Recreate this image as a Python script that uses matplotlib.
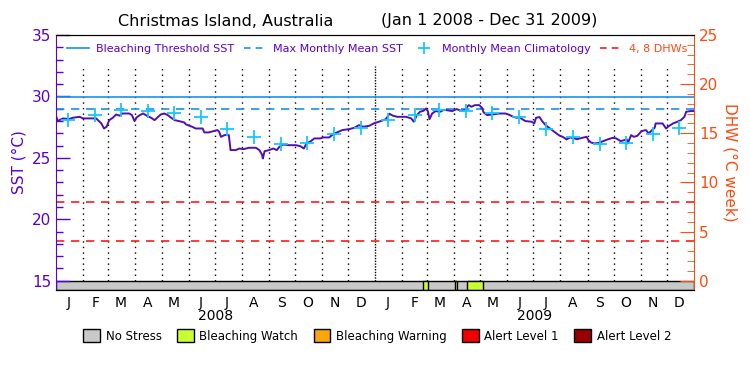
import numpy as np
import matplotlib
matplotlib.use("Agg")
import matplotlib.pyplot as plt
from matplotlib.lines import Line2D
from matplotlib.patches import Patch
from matplotlib.transforms import blended_transform_factory

# days since Jan 1 2008 and daily SST (deg C)
sst_day = [0, 2, 4, 8, 15, 19, 27, 31, 46, 48, 52, 55, 58, 61, 65, 69, 73, 76, 84, 87,
           90, 92, 96, 100, 104, 109, 113, 117, 120, 124, 128, 132, 136, 141, 147,
           149, 156, 160, 168, 170, 175, 181, 185, 187, 189, 193, 198, 200, 206, 210,
           215, 221, 229, 233, 236, 237, 239, 244, 249, 253, 256, 260, 267, 275, 280,
           284, 287, 292, 296,
           303, 306, 313, 317, 321, 328, 336, 342, 347, 352, 359, 364, 372, 378, 382,
           386, 391, 401, 407, 410, 413, 417, 421, 424, 426, 428, 431, 435, 440, 444,
           447, 454, 459, 464, 469, 471, 473, 476, 480, 485, 488, 490, 494, 500, 508,
           515, 520, 524, 528, 531, 534, 538, 545, 548, 550, 554, 557, 561, 566, 571,
           576, 581, 585, 589,
           594, 597, 603, 608, 610, 613, 617, 622, 627, 632, 638, 642, 647, 651, 654,
           655, 659, 662, 666, 671, 676, 679, 683, 686, 687, 695, 699, 702, 707, 712,
           716, 720, 722, 727, 731]
sst_val = [28.43, 27.99, 28.07, 28.21, 28.15, 28.26, 28.34, 28.21, 28.21, 28.07, 27.80, 27.39,
           27.53, 28.07, 28.26, 28.53, 28.43, 28.61, 28.61, 28.48, 27.99, 28.26, 28.48, 28.61,
           28.43, 28.26, 28.07, 28.34, 28.53, 28.61, 28.48, 28.26, 28.07, 27.99, 27.88,
           27.72, 27.53, 27.39, 27.39, 27.07, 27.07, 27.18, 27.26, 27.12, 26.71, 26.85, 26.85,
           25.63, 25.63, 25.76, 25.71, 25.82, 25.82, 25.63, 25.27, 24.95, 25.54, 25.63, 25.76,
           25.63, 25.90, 26.09, 26.03, 26.03, 25.95, 25.76, 26.17, 26.36, 26.58,
           26.58, 26.66, 26.66, 26.90, 27.04, 27.26, 27.34, 27.45, 27.66, 27.53, 27.61, 27.80,
           27.99, 28.15, 28.59, 28.43, 28.34, 28.34, 28.21, 27.94, 28.43, 28.75, 28.83, 29.02,
           28.81, 28.15, 28.61, 28.81, 28.75, 28.89,
           28.89, 28.81, 28.97, 28.83, 28.89, 29.16, 29.29, 29.16, 29.29, 29.29, 29.08, 28.70,
           28.48, 28.53, 28.61, 28.61, 28.48, 28.34, 28.26, 28.34, 28.15, 27.99, 27.94, 27.80,
           28.26, 28.32, 27.99, 27.66, 27.39, 27.12, 26.85, 26.69, 26.50, 26.66,
           26.58, 26.52, 26.63, 26.71, 26.44, 26.25, 26.17, 26.22, 26.36, 26.50, 26.63, 26.58,
           26.36, 26.44, 26.50, 26.17, 26.85, 26.71, 26.79, 27.18, 27.26, 26.99, 27.26, 27.45,
           27.80, 27.80, 27.39, 27.58, 27.80, 27.94, 28.07, 28.34, 28.75, 28.81, 28.81]

# monthly mean climatology, Jan..Dec
clim = [28.05, 28.48, 28.92, 28.83, 28.67, 28.29, 27.37, 26.71, 26.15, 26.17, 26.92, 27.47]
mmm = 28.97
threshold = mmm + 1.0
dhw_levels = [4, 8]

# stress strip: (start day, end day, level)
stress = [(0, 731, "No Stress"), (421, 426, "Bleaching Watch"),
          (457, 460, "Bleaching Watch"), (471, 489, "Bleaching Watch")]
stress_names = ["No Stress", "Bleaching Watch", "Bleaching Warning", "Alert Level 1", "Alert Level 2"]
stress_colors = ["#c8c8c8", "#c8ff32", "#faa50a", "#f00000", "#960000"]

month_letters = list("JFMAMJJASOND")
years = [2008, 2009]

PURPLE = "#5a00d2"
LINE = "#5010b4"
BLUE = "#1493f0"
CYAN = "#14c8ff"
ORANGE = "#ff4a10"
RED = "#ff1a1a"

# month boundaries / mid-months as day offsets
starts = np.arange("2008-01", "2010-02", dtype="datetime64[M]").astype("datetime64[D]")
month_start = (starts - np.datetime64("2008-01-01")).astype(int)
mid_month = month_start[:-1] + 14
clim2 = clim * 2

ymin = 14.242
fig = plt.figure(figsize=(7.5, 3.75), dpi=100)
ax = fig.add_axes([56 / 750, 1 - 290 / 375, 638 / 750, 255 / 375])
ax.set_xlim(0, 731)
ax.set_ylim(ymin, 35)

# month separators
for d in month_start[1:-1]:
    ls = (0, (1, 1)) if d == 366 else (0, (1, 3))
    ax.plot([d, d], [15, 32.5], color="black", lw=1, ls=ls)

ax.axhline(threshold, color=BLUE, lw=1.2)
ax.axhline(mmm, color=BLUE, lw=1.2, ls=(0, (5, 4)))
for lev in dhw_levels:
    ax.axhline(15 + lev / 1.25, color=RED, lw=1.2, ls=(0, (5, 4)))
ax.plot(sst_day, sst_val, color=LINE, lw=1.4)
ax.plot(mid_month, clim2, ls="none", marker="+", ms=10, mew=1.3, color=CYAN)

# stress strip
for s, e, name in stress:
    c = stress_colors[stress_names.index(name)]
    ax.broken_barh([(s, e - s)], (ymin, 15 - ymin), facecolor=c, edgecolor="black", lw=1)

ax.set_xticks(mid_month)
ax.set_xticklabels(month_letters * 2, fontsize=10)
ax.tick_params(axis="x", length=0, pad=4)
tr = blended_transform_factory(ax.transData, ax.transAxes)
for i, y in enumerate(years):
    ax.text(183 + 365.5 * i, -0.1, str(y), transform=tr, ha="center", va="center", fontsize=10)

ax.set_yticks([15, 20, 25, 30, 35])
ax.set_yticks(np.arange(15, 35), minor=True)
ax.tick_params(axis="y", which="major", direction="in", length=10, colors=PURPLE, labelsize=11, width=1)
ax.tick_params(axis="y", which="minor", direction="in", length=5, color=PURPLE, width=1)
ax.set_ylabel("SST (\u00b0C)", color=PURPLE, fontsize=11)
ax.spines["left"].set_color(PURPLE)
ax.spines["right"].set_visible(False)

ax2 = ax.twinx()
ax2.set_ylim(1.25 * (ymin - 15), 25)
ax2.set_yticks([0, 5, 10, 15, 20, 25])
ax2.set_yticks(np.arange(0, 26), minor=True)
ax2.tick_params(axis="y", which="major", direction="in", length=10, colors=ORANGE, labelsize=11)
ax2.tick_params(axis="y", which="minor", direction="in", length=5, color=ORANGE)
ax2.set_ylabel("DHW (\u00b0C week)", color=ORANGE, fontsize=11, rotation=270, labelpad=14)
ax2.spines["right"].set_color(ORANGE)
ax2.spines["left"].set_visible(False)

handles = [Line2D([], [], color=BLUE, lw=1.2),
           Line2D([], [], color=BLUE, lw=1.2, ls=(0, (4, 3))),
           Line2D([], [], color=CYAN, ls="none", marker="+", ms=8, mew=1.3),
           Line2D([], [], color=RED, lw=1.2, ls=(0, (4, 3)))]
labels = ["Bleaching Threshold SST", "Max Monthly Mean SST", "Monthly Mean Climatology", "4, 8 DHWs"]
leg = ax2.legend(handles, labels, ncol=4, loc="center left", bbox_to_anchor=(0.017, 0.945),
                 frameon=False, fontsize=8, handlelength=2.0, handletextpad=0.6,
                 columnspacing=0.9, borderaxespad=0, borderpad=0)
for t, c in zip(leg.get_texts(), [PURPLE, PURPLE, PURPLE, ORANGE]):
    t.set_color(c)

fig.text(118 / 750, 1 - 21 / 375, "Christmas Island, Australia", fontsize=11.5, va="center")
fig.text(381 / 750, 1 - 21 / 375, "(Jan 1 2008 - Dec 31 2009)", fontsize=11.5, va="center")

patches = [Patch(facecolor=c, edgecolor="black", lw=1) for c in stress_colors]
fig.legend(patches, stress_names, ncol=5, loc="center", bbox_to_anchor=(0.503, 1 - 336 / 375),
           frameon=False, fontsize=8.5, handlelength=1.4, handleheight=1.3, handletextpad=0.5,
           columnspacing=1.3)

fig.savefig("out.png", dpi=100)
